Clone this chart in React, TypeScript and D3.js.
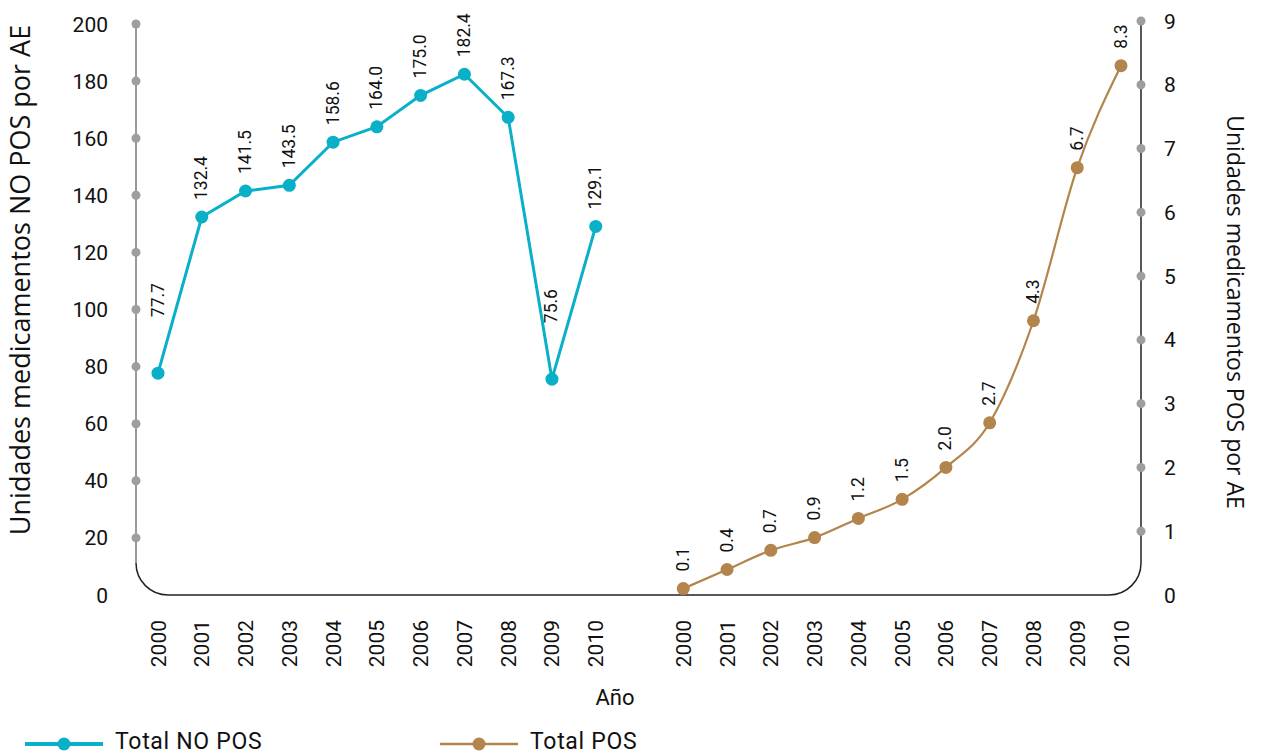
import React from "react";
import * as d3 from "d3";

const yearsNoPos = ["2000","2001","2002","2003","2004","2005","2006","2007","2008","2009","2010"];
const yearsPos = ["2000","2001","2002","2003","2004","2005","2006","2007","2008","2009","2010"];
const valuesNoPos = [77.7, 132.4, 141.5, 143.5, 158.6, 164.0, 175.0, 182.4, 167.3, 75.6, 129.1];
const valuesPos = [0.1, 0.4, 0.7, 0.9, 1.2, 1.5, 2.0, 2.7, 4.3, 6.7, 8.3];
const leftTicks = [20, 40, 60, 80, 100, 120, 140, 160, 180, 200];
const leftTickLabels = [0, 20, 40, 60, 80, 100, 120, 140, 160, 180, 200];
const rightTicks = [1, 2, 3, 4, 5, 6, 7, 8, 9];
const rightTickLabels = [0, 1, 2, 3, 4, 5, 6, 7, 8, 9];
const seriesNames = ["Total NO POS", "Total POS"];
const leftTitle = "Unidades medicamentos NO POS por AE";
const rightTitle = "Unidades medicamentos POS por AE";
const xTitle = "Año";

const W = 1263, H = 755;
const CYAN = "#0aafc8";
const BROWN = "#b3844b";
const DOT = "#9e9e9e";
const NUMFONT = "Roboto, 'DejaVu Sans', sans-serif";
const TITLEFONT = "'Open Sans', 'Noto Sans', sans-serif";

const keys = [
  ...yearsNoPos.map((y) => `N-${y}`),
  "gap",
  ...yearsPos.map((y) => `P-${y}`),
];
const x = d3.scalePoint<string>().domain(keys).range([158, 1121]);
const yL = d3.scaleLinear().domain([0, 200]).range([595, 24]);
const yR = d3.scaleLinear().domain([0, 9]).range([595, 21]);

type Pt = { key: string; v: number; px: number; py: number };

function labelOffsets(pts: Pt[]) {
  return pts.map((p, i) => {
    const nb = [pts[i - 1], pts[i + 1]].filter(Boolean) as Pt[];
    const allHigher = nb.length > 0 && nb.every((n) => p.py - n.py > 40);
    return allHigher ? 56 : 17;
  });
}

export default function App() {
  const ptsN: Pt[] = valuesNoPos.map((v, i) => {
    const key = `N-${yearsNoPos[i]}`;
    return { key, v, px: x(key)!, py: yL(v) };
  });
  const ptsP: Pt[] = valuesPos.map((v, i) => {
    const key = `P-${yearsPos[i]}`;
    return { key, v, px: x(key)!, py: yR(v) };
  });
  const lineN = d3.line<Pt>().x((d) => d.px).y((d) => d.py);
  const lineP = d3.line<Pt>().x((d) => d.px).y((d) => d.py).curve(d3.curveMonotoneX);
  const offN = labelOffsets(ptsN);
  const offP = labelOffsets(ptsP);

  const xl = 136, xr = 1141, yb = yL(0), R = 32;

  const allYearKeys = keys.filter((k) => k !== "gap");

  return (
    <svg width={W} height={H} style={{ position: "absolute", left: 0, top: 0, background: "#fff" }}>
      {/* frame */}
      <path d={`M${xl},${yL(200)} L${xl},${yb - R}`} stroke="#777" strokeWidth={1.5} fill="none" />
      <path d={`M${xl},${yb - R} A${R},${R} 0 0 0 ${xl + R},${yb} L${xr - R},${yb} A${R},${R} 0 0 0 ${xr},${yb - R} L${xr},${yR(9)}`} stroke="#222" strokeWidth={1.5} fill="none" />
      {/* left ticks */}
      {leftTicks.map((t) => (
        <circle key={`lt${t}`} cx={xl} cy={yL(t)} r={4.5} fill={DOT} />
      ))}
      {leftTickLabels.map((t) => (
        <text key={`ltl${t}`} x={108} y={yL(t)} dy="0.36em" textAnchor="end" fontFamily={NUMFONT} fontSize={21} fill="#111">{t}</text>
      ))}
      {/* right ticks */}
      {rightTicks.map((t) => (
        <circle key={`rt${t}`} cx={xr} cy={yR(t)} r={4.5} fill={DOT} />
      ))}
      {rightTickLabels.map((t) => (
        <text key={`rtl${t}`} x={1164} y={yR(t)} dy="0.36em" textAnchor="start" fontFamily={NUMFONT} fontSize={21} fill="#111">{t}</text>
      ))}
      {/* x labels */}
      {allYearKeys.map((k) => (
        <text key={`xl${k}`} transform={`translate(${x(k)! + 7.5},${620}) rotate(-90)`} textAnchor="end" fontFamily={NUMFONT} fontSize={21} fill="#111">{k.slice(2)}</text>
      ))}
      {/* axis titles */}
      <text transform={`translate(${30},${280}) rotate(-90)`} textAnchor="middle" fontFamily={TITLEFONT} fontSize={27} fill="#111">{leftTitle}</text>
      <text transform={`translate(${1227},${312}) rotate(90)`} textAnchor="middle" fontFamily={TITLEFONT} fontSize={23} fill="#111">{rightTitle}</text>
      <text x={615} y={705} textAnchor="middle" fontFamily={NUMFONT} fontSize={22} fill="#111">{xTitle}</text>
      {/* series */}
      <path d={lineN(ptsN)!} stroke={CYAN} strokeWidth={3} fill="none" />
      <path d={lineP(ptsP)!} stroke={BROWN} strokeWidth={2.2} fill="none" />
      {ptsN.map((p) => (
        <circle key={`pn${p.key}`} cx={p.px} cy={p.py} r={6.5} fill={CYAN} />
      ))}
      {ptsP.map((p) => (
        <circle key={`pp${p.key}`} cx={p.px} cy={p.py} r={6.5} fill={BROWN} />
      ))}
      {ptsN.map((p, i) => (
        <text key={`ln${p.key}`} transform={`translate(${p.px + 5.5},${p.py - offN[i]}) rotate(-90)`} textAnchor="start" fontFamily={NUMFONT} fontSize={17.5} fill="#111">{p.v.toFixed(1)}</text>
      ))}
      {ptsP.map((p, i) => (
        <text key={`lp${p.key}`} transform={`translate(${p.px + 5.5},${p.py - offP[i]}) rotate(-90)`} textAnchor="start" fontFamily={NUMFONT} fontSize={17.5} fill="#111">{p.v.toFixed(1)}</text>
      ))}
      {/* legend */}
      <g transform="translate(25,744)">
        <line x1={0} x2={78} y1={0} y2={0} stroke={CYAN} strokeWidth={4} />
        <circle cx={39} cy={0} r={6.5} fill={CYAN} />
        <text x={90} y={4.5} fontFamily={NUMFONT} fontSize={23} letterSpacing={0.7} fill="#111">{seriesNames[0]}</text>
      </g>
      <g transform="translate(440,744)">
        <line x1={0} x2={78} y1={0} y2={0} stroke={BROWN} strokeWidth={2.5} />
        <circle cx={39} cy={0} r={6.5} fill={BROWN} />
        <text x={90} y={4.5} fontFamily={NUMFONT} fontSize={23} letterSpacing={0.7} fill="#111">{seriesNames[1]}</text>
      </g>
    </svg>
  );
}
